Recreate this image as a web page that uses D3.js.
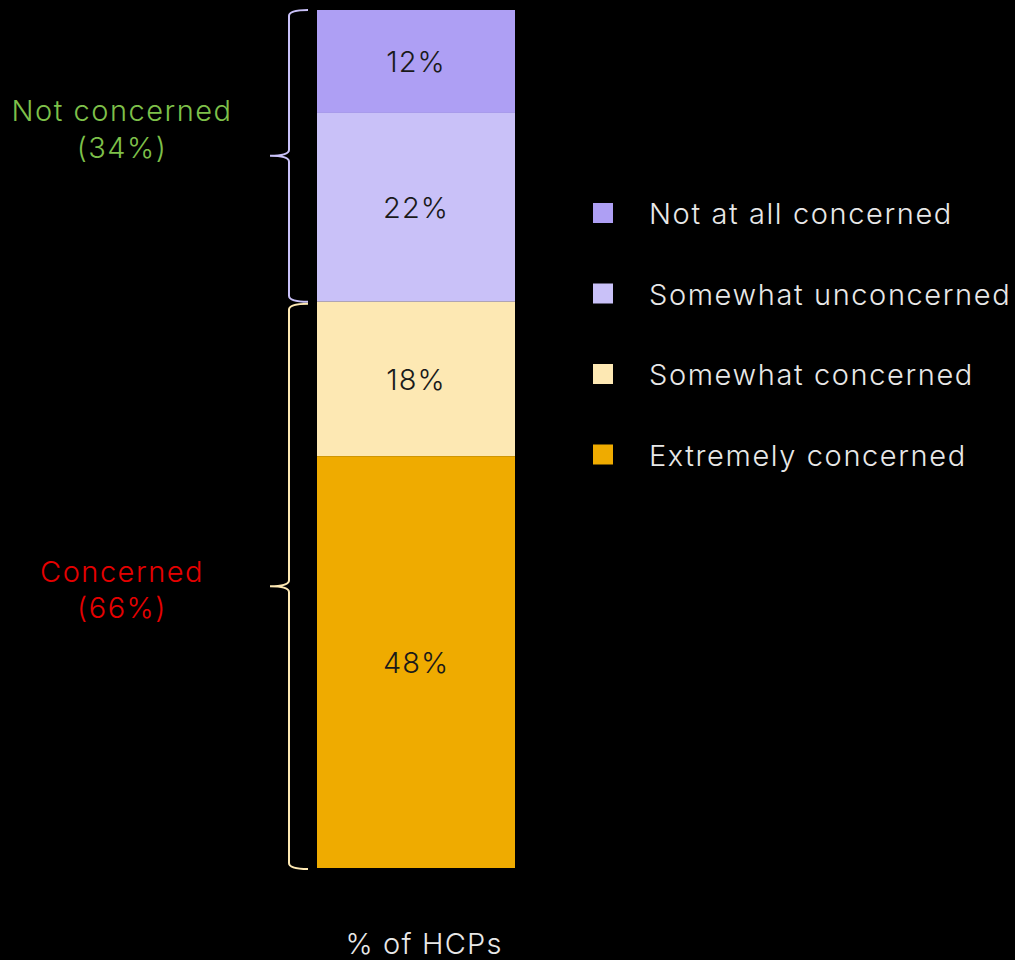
<!DOCTYPE html>
<html><head><meta charset="utf-8">
<script src="https://cdn.jsdelivr.net/npm/d3@7"></script>
<style>
html,body{margin:0;padding:0;background:#000;}
svg{display:block;}
text{font-family:Inter,"Noto Sans",sans-serif;font-weight:300;}
</style></head>
<body>
<script>
const categories = ["Not at all concerned","Somewhat unconcerned","Somewhat concerned","Extremely concerned"];
const values = [12,22,18,48];
const colors = ["#ae9ff4","#c9c1f8","#fde8b3","#efab00"];
const groupLabels = [["Not concerned","(34%)"],["Concerned","(66%)"]];
const groupRanges = [[0,34],[34,100]];
const groupColors = ["#c9c1f8","#fde8b3"];
const groupTextColors = ["#7ec04a","#e60000"];
const axisLabel = "% of HCPs";

const W=1015,H=960;
const svg=d3.select("body").append("svg").attr("width",W).attr("height",H);
svg.append("rect").attr("width",W).attr("height",H).attr("fill","#000");

const y=d3.scaleLinear().domain([0,100]).range([10,868]);
const x=d3.scaleBand().domain(["HCPs"]).range([317,515]).padding(0);

let cum=0;
const stack=values.map((v,i)=>{const s={cat:categories[i],v,y0:cum,y1:cum+v,c:colors[i]};cum+=v;return s;});

svg.selectAll("rect.seg").data(stack).enter().append("rect")
 .attr("x",x("HCPs")).attr("width",x.bandwidth())
 .attr("y",d=>y(d.y0)).attr("height",d=>y(d.y1)-y(d.y0))
 .attr("fill",d=>d.c);

svg.selectAll("text.val").data(stack).enter().append("text")
 .attr("x",x("HCPs")+x.bandwidth()/2).attr("y",d=>(y(d.y0)+y(d.y1))/2+11)
 .attr("text-anchor","middle").attr("font-size",29).attr("letter-spacing",1).attr("fill","#1a1a1a")
 .text(d=>d.v+"%");

// braces
function brace(top,bot,mid){
  const xs=289, xr=308, xt=270, r=6;
  return `M${xr},${top} Q${xs},${top} ${xs},${top+r} L${xs},${mid-r} Q${xs},${mid} ${xt},${mid} Q${xs},${mid} ${xs},${mid+r} L${xs},${bot-r} Q${xs},${bot} ${xr},${bot}`;
}
const labelBaselines=[[121,158],[582,618]];
groupRanges.forEach((g,i)=>{
  const top=y(g[0])+(i===1?2:0), bot=y(g[1])+(i===1?1:0);
  svg.append("path").attr("d",brace(top,bot,(top+bot)/2))
   .attr("fill","none").attr("stroke",groupColors[i]).attr("stroke-width",2);
  const t=svg.append("text").attr("text-anchor","middle").attr("font-size",29)
   .attr("letter-spacing",1.5).attr("fill",groupTextColors[i]);
  t.append("tspan").attr("x",122).attr("y",labelBaselines[i][0]).text(groupLabels[i][0]);
  t.append("tspan").attr("x",122).attr("y",labelBaselines[i][1]).text(groupLabels[i][1]);
});

// legend
const leg=svg.selectAll("g.leg").data(categories).enter().append("g")
 .attr("transform",(d,i)=>`translate(593,${203+i*80.5})`);
leg.append("rect").attr("width",20).attr("height",20).attr("fill",(d,i)=>colors[i]);
leg.append("text").attr("x",56).attr("y",21).attr("font-size",29).attr("letter-spacing",1.6)
 .attr("fill","#e8e8e8").text(d=>d);

svg.append("text").attr("x",424).attr("y",954).attr("text-anchor","middle")
 .attr("font-size",29).attr("letter-spacing",1.2).attr("fill","#e8e8e8").text(axisLabel);
</script>
</body></html>
